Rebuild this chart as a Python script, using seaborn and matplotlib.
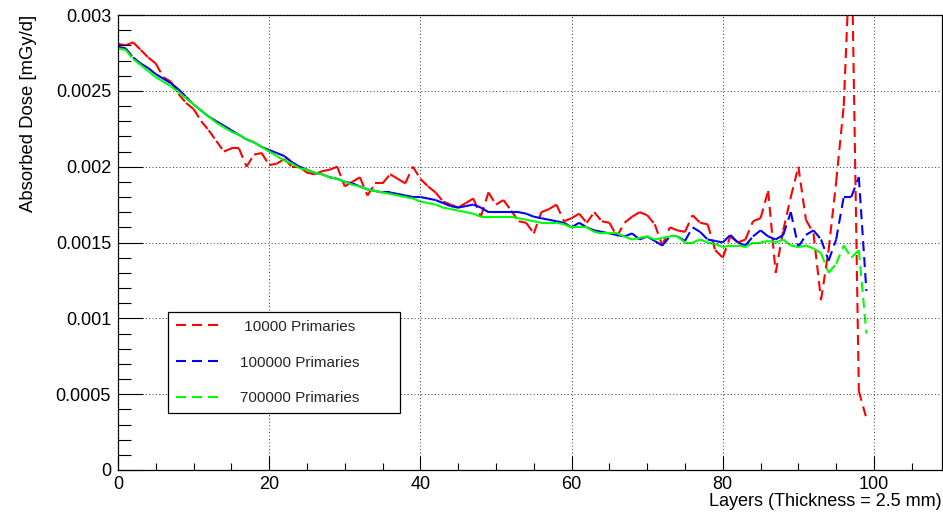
import numpy as np
import pandas as pd
import matplotlib
matplotlib.use("Agg")
import matplotlib.pyplot as plt
from matplotlib.lines import Line2D
from matplotlib.ticker import MultipleLocator, FixedLocator, FixedFormatter
import seaborn as sns

# ---------------- data ----------------
layers = list(range(100))

dose_10k = [0.00281, 0.00280, 0.00282, 0.00277, 0.00272, 0.00268, 0.00259, 0.00256, 0.00248, 0.00242,
            0.00238, 0.00230, 0.00224, 0.00217, 0.00210, 0.00212, 0.00212, 0.00200, 0.00208, 0.00209,
            0.00201, 0.00202, 0.00205, 0.00200, 0.00200, 0.00196, 0.00195, 0.00197, 0.00198, 0.00200,
            0.00187, 0.00190, 0.00193, 0.00181, 0.00189, 0.00189, 0.00195, 0.00192, 0.00189, 0.00200,
            0.00192, 0.00187, 0.00183, 0.00177, 0.00175, 0.00173, 0.00176, 0.00179, 0.00167, 0.00183,
            0.00175, 0.00178, 0.00171, 0.00164, 0.00163, 0.00156, 0.00170, 0.00172, 0.00175, 0.00164,
            0.00166, 0.00169, 0.00163, 0.00170, 0.00164, 0.00163, 0.00154, 0.00163, 0.00167, 0.00170,
            0.00168, 0.00162, 0.00148, 0.00160, 0.00158, 0.00157, 0.00168, 0.00163, 0.00162, 0.00145,
            0.00140, 0.00154, 0.00150, 0.00152, 0.00164, 0.00166, 0.00184, 0.00130, 0.00158, 0.00180,
            0.00200, 0.00165, 0.00156, 0.00112, 0.00145, 0.00190, 0.00240, 0.00360, 0.00052, 0.00034]

dose_100k = [0.00279, 0.00278, 0.00272, 0.00268, 0.00265, 0.00261, 0.00258, 0.00255, 0.00251, 0.00246,
             0.00241, 0.00237, 0.00233, 0.00230, 0.00227, 0.00224, 0.00221, 0.00218, 0.00216, 0.00213,
             0.00211, 0.00209, 0.00207, 0.00203, 0.00200, 0.00198, 0.00196, 0.00195, 0.00193, 0.00192,
             0.00190, 0.00189, 0.00187, 0.00185, 0.00184, 0.00183, 0.00183, 0.00182, 0.00181, 0.00180,
             0.00180, 0.00179, 0.00178, 0.00176, 0.00174, 0.00173, 0.00174, 0.00175, 0.00173, 0.00170,
             0.00170, 0.00170, 0.00170, 0.00170, 0.00169, 0.00167, 0.00166, 0.00165, 0.00164, 0.00163,
             0.00160, 0.00163, 0.00160, 0.00158, 0.00157, 0.00156, 0.00155, 0.00154, 0.00156, 0.00152,
             0.00154, 0.00151, 0.00148, 0.00154, 0.00154, 0.00151, 0.00160, 0.00157, 0.00152, 0.00151,
             0.00150, 0.00155, 0.00150, 0.00148, 0.00154, 0.00158, 0.00154, 0.00152, 0.00155, 0.00170,
             0.00147, 0.00155, 0.00158, 0.00152, 0.00138, 0.00152, 0.00180, 0.00180, 0.00193, 0.00118]

dose_700k = [0.00278, 0.00277, 0.00271, 0.00267, 0.00263, 0.00259, 0.00256, 0.00253, 0.00249, 0.00245,
             0.00241, 0.00237, 0.00233, 0.00229, 0.00226, 0.00223, 0.00221, 0.00218, 0.00216, 0.00213,
             0.00210, 0.00207, 0.00204, 0.00202, 0.00199, 0.00198, 0.00196, 0.00195, 0.00193, 0.00192,
             0.00190, 0.00188, 0.00187, 0.00185, 0.00184, 0.00183, 0.00182, 0.00181, 0.00180, 0.00179,
             0.00177, 0.00176, 0.00175, 0.00173, 0.00172, 0.00171, 0.00170, 0.00169, 0.00167, 0.00167,
             0.00167, 0.00167, 0.00167, 0.00166, 0.00165, 0.00164, 0.00163, 0.00163, 0.00163, 0.00162,
             0.00160, 0.00160, 0.00160, 0.00157, 0.00156, 0.00156, 0.00156, 0.00154, 0.00152, 0.00153,
             0.00154, 0.00152, 0.00153, 0.00154, 0.00154, 0.00150, 0.00150, 0.00152, 0.00150, 0.00149,
             0.00147, 0.00148, 0.00148, 0.00147, 0.00150, 0.00150, 0.00151, 0.00150, 0.00152, 0.00148,
             0.00147, 0.00148, 0.00146, 0.00143, 0.00130, 0.00136, 0.00148, 0.00140, 0.00145, 0.00090]

series_names = [" 10000 Primaries", "100000 Primaries", "700000 Primaries"]
series_values = [dose_10k, dose_100k, dose_700k]
series_colors = ["#ff0000", "#0000ff", "#00ff00"]

x_ticks = [0, 20, 40, 60, 80, 100]
x_tick_labels = ["0", "20", "40", "60", "80", "100"]
y_ticks = [0, 0.0005, 0.001, 0.0015, 0.002, 0.0025, 0.003]
y_tick_labels = ["0", "0.0005", "0.001", "0.0015", "0.002", "0.0025", "0.003"]

x_title = "Layers (Thickness = 2.5 mm)"
y_title = "Absorbed Dose [mGy/d]"

# ---------------- long-form table: one unit per segment (dash restarts, like ROOT) ----------------
rows = []
for name, vals in zip(series_names, series_values):
    for i in range(len(layers) - 1):
        rows.append((name, i, layers[i], vals[i]))
        rows.append((name, i, layers[i + 1], vals[i + 1]))
df = pd.DataFrame(rows, columns=["series", "seg", "layer", "dose"])

# ---------------- style ----------------
sns.set_theme(style="white")
plt.rcParams["font.family"] = ["Liberation Sans", "DejaVu Sans"]

W, H, DPI = 943, 512, 100
fig = plt.figure(figsize=(W / DPI, H / DPI), dpi=DPI)
ax = fig.add_axes([118 / W, 1 - 470 / H, 824 / W, 455 / H])

LW = 1.5
dash_on = 10 * 0.72 / LW
dash_off = 6 * 0.72 / LW
dash_map = {n: (dash_on, dash_off) for n in series_names}
pal = dict(zip(series_names, series_colors))

sns.lineplot(data=df, x="layer", y="dose", hue="series", style="series",
             units="seg", estimator=None, sort=False,
             palette=pal, dashes=dash_map, linewidth=LW,
             legend=False, ax=ax)

ax.set_xlim(0, 109)
ax.set_ylim(0, 0.003)

ax.xaxis.set_major_locator(FixedLocator(x_ticks))
ax.xaxis.set_major_formatter(FixedFormatter(x_tick_labels))
ax.xaxis.set_minor_locator(MultipleLocator(5))
ax.yaxis.set_major_locator(FixedLocator(y_ticks))
ax.yaxis.set_major_formatter(FixedFormatter(y_tick_labels))
ax.yaxis.set_minor_locator(MultipleLocator(0.0001))

ax.tick_params(axis="both", which="both", direction="in", color="black",
               width=0.8, labelsize=13, labelcolor="black",
               bottom=True, left=True, top=False, right=False)
ax.tick_params(axis="x", which="major", length=10, pad=4)
ax.tick_params(axis="x", which="minor", length=5)
ax.tick_params(axis="y", which="major", length=18, pad=5)
ax.tick_params(axis="y", which="minor", length=9)

ax.grid(True, which="major", color="#333333", linestyle=(0, (1, 2.5)), linewidth=0.7)
ax.set_axisbelow(False)
for sp in ax.spines.values():
    sp.set_color("black")
    sp.set_linewidth(0.9)
    sp.set_visible(True)

ax.set_xlabel(x_title, fontsize=13, color="black", loc="right")
ax.xaxis.set_label_coords(1.0, -0.051)
ax.xaxis.label.set_verticalalignment("top")
ax.set_ylabel(y_title, fontsize=13.3, color="black", loc="top")
ax.yaxis.set_label_coords(-0.098, 1.0)

handles = [Line2D([0], [0], color=c, lw=LW, dashes=(dash_on, dash_off)) for c in series_colors]
leg = ax.legend(handles, series_names, loc="lower left",
                bbox_to_anchor=((168 - 118) / 824, (470 - 413) / 455, (400 - 168) / 824, 0.224),
                mode="expand", borderaxespad=0, borderpad=0.5, labelspacing=1.43,
                handlelength=2.9, handletextpad=1.3, fontsize=11, frameon=True,
                fancybox=False, framealpha=1.0, edgecolor="black")
leg.get_frame().set_linewidth(0.9)

fig.savefig("out.png", dpi=DPI, facecolor="white")
